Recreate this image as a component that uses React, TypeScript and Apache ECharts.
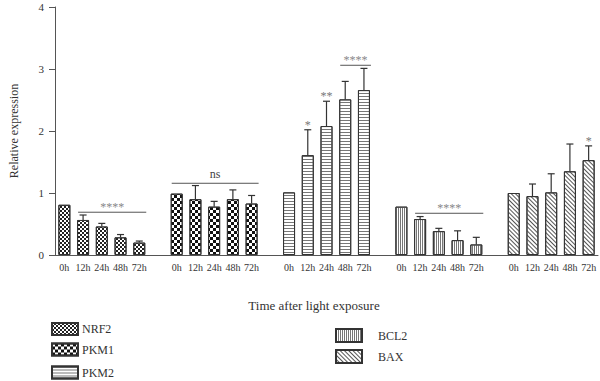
import React, { useEffect, useRef } from "react";
import * as echarts from "echarts";

const times = ["0h", "12h", "24h", "48h", "72h"];
const genes = ["NRF2", "PKM1", "PKM2", "BCL2", "BAX"];

const nrf2Mean = [0.81, 0.565, 0.46, 0.285, 0.2];
const nrf2Sd = [0, 0.08, 0.05, 0.045, 0.025];
const pkm1Mean = [0.99, 0.9, 0.78, 0.9, 0.83];
const pkm1Sd = [0, 0.22, 0.085, 0.15, 0.13];
const pkm2Mean = [1.01, 1.61, 2.08, 2.51, 2.66];
const pkm2Sd = [0, 0.41, 0.4, 0.29, 0.35];
const bcl2Mean = [0.78, 0.58, 0.385, 0.24, 0.17];
const bcl2Sd = [0, 0.04, 0.045, 0.15, 0.115];
const baxMean = [1.0, 0.95, 1.01, 1.35, 1.53];
const baxSd = [0, 0.195, 0.3, 0.44, 0.23];

// per-bar significance marks
const pkm2Marks = ["", "*", "**", "", ""];
const baxMarks = ["", "", "", "", "*"];
const noMarks = ["", "", "", "", ""];

// bracket annotations: gene, from time index, to time index, height, text
const brackets = [
  { gene: "NRF2", from: 1, to: 4, y: 0.69, text: "****" },
  { gene: "PKM1", from: 0, to: 4, y: 1.157, text: "ns" },
  { gene: "PKM2", from: 3, to: 4, y: 3.06, text: "****" },
  { gene: "BCL2", from: 1, to: 4, y: 0.673, text: "****" },
];

const yTicks = [0, 1, 2, 3, 4];

const means = [nrf2Mean, pkm1Mean, pkm2Mean, bcl2Mean, baxMean];
const sds = [nrf2Sd, pkm1Sd, pkm2Sd, bcl2Sd, baxSd];
const marks = [noMarks, noMarks, pkm2Marks, noMarks, baxMarks];

const FONT = '"Liberation Serif", "DejaVu Serif", serif';

const decals: any[] = [
  // NRF2 fine checkerboard
  { symbol: "rect", symbolSize: 1, color: "#222", dashArrayX: [[2, 2], [0, 2, 2, 0]], dashArrayY: [2, 0] },
  // PKM1 coarse checkerboard
  { symbol: "rect", symbolSize: 1, color: "#111", dashArrayX: [[3, 3], [0, 3, 3, 0]], dashArrayY: [3, 0] },
  // PKM2 horizontal lines
  { symbol: "rect", symbolSize: 1, color: "#777", dashArrayX: [1, 0], dashArrayY: [1, 1.4] },
  // BCL2 vertical lines
  { symbol: "rect", symbolSize: 1, color: "#777", dashArrayX: [1, 1], dashArrayY: [1, 0] },
  // BAX diagonal lines
  { symbol: "rect", symbolSize: 1, color: "#555", dashArrayX: [1, 0], dashArrayY: [1, 2], rotation: Math.PI / 4 },
];

// legend placement (one legend component per gene)
const legendSpots = [
  { left: 51, top: 322, h: 12, textGap: 4 },
  { left: 51, top: 342.5, h: 12, textGap: 4 },
  { left: 51, top: 365.5, h: 12, textGap: 4 },
  { left: 335, top: 328, h: 13, textGap: 16 },
  { left: 335, top: 349, h: 13, textGap: 16 },
];

export default function App() {
  const ref = useRef<HTMLDivElement>(null);

  useEffect(() => {
    if (!ref.current) return;
    const chart = echarts.init(ref.current, null, { renderer: "svg" });

    const categories: string[] = [];
    genes.forEach((g, gi) => {
      times.forEach((t) => categories.push(`${g}|${t}`));
      if (gi < genes.length - 1) categories.push(`gap${gi}`);
    });
    const idx = (gi: number, ti: number) => gi * (times.length + 1) + ti;

    const barSeries = genes.map((g, gi) => {
      const data: any[] = categories.map(() => "-");
      means[gi].forEach((v, ti) => (data[idx(gi, ti)] = v));
      return {
        name: g,
        type: "bar",
        data,
        barWidth: 12,
        barGap: "-100%",
        itemStyle: { color: "#fff", borderColor: "#333", borderWidth: 1, decal: decals[gi] },
        emphasis: { disabled: true },
      };
    });

    const errItems: { x: number; lo: number; hi: number; mark: string }[] = [];
    genes.forEach((g, gi) => {
      means[gi].forEach((m, ti) => {
        if (sds[gi][ti] > 0) {
          errItems.push({ x: idx(gi, ti), lo: m, hi: m + sds[gi][ti], mark: marks[gi][ti] });
        }
      });
    });

    const errSeries = {
      type: "custom",
      silent: true,
      z: 5,
      data: errItems.map((e) => [e.x, e.lo, e.hi]),
      renderItem: (params: any, api: any) => {
        const x = api.value(0);
        const b = api.coord([x, api.value(1)]);
        const t = api.coord([x, api.value(2)]);
        const children: any[] = [
          { type: "line", shape: { x1: b[0], y1: b[1], x2: t[0], y2: t[1] }, style: { stroke: "#333", lineWidth: 1.2 } },
          { type: "line", shape: { x1: t[0] - 3.5, y1: t[1], x2: t[0] + 3.5, y2: t[1] }, style: { stroke: "#333", lineWidth: 1.2 } },
        ];
        const mk = errItems[params.dataIndex].mark;
        if (mk) {
          children.push({
            type: "text",
            style: { text: mk, x: t[0], y: t[1] + 1, align: "center", verticalAlign: "bottom", fill: "#777", font: `12px ${FONT}` },
          });
        }
        return { type: "group", children };
      },
    };

    const sigSeries = {
      type: "custom",
      silent: true,
      z: 5,
      data: brackets.map((b) => {
        const gi = genes.indexOf(b.gene);
        return [idx(gi, b.from), idx(gi, b.to), b.y];
      }),
      encode: { x: [0, 1], y: 2 },
      renderItem: (params: any, api: any) => {
        const p1 = api.coord([api.value(0), api.value(2)]);
        const p2 = api.coord([api.value(1), api.value(2)]);
        const txt = brackets[params.dataIndex].text;
        const isNs = txt === "ns";
        return {
          type: "group",
          children: [
            { type: "line", shape: { x1: p1[0] - 5, y1: p1[1], x2: p2[0] + 7, y2: p2[1] }, style: { stroke: "#555", lineWidth: 1 } },
            {
              type: "text",
              style: {
                text: txt,
                x: (p1[0] - 5 + p2[0] + 7) / 2,
                y: isNs ? p1[1] - 3 : p1[1] + 1,
                align: "center",
                verticalAlign: "bottom",
                fill: isNs ? "#444" : "#888",
                font: `12px ${FONT}`,
              },
            },
          ],
        };
      },
    };

    const legends = genes.map((g, gi) => {
      const s = legendSpots[gi];
      return {
        data: [g],
        orient: "vertical",
        left: s.left,
        top: s.top,
        padding: 0,
        icon: "rect",
        itemWidth: 26,
        itemHeight: s.h,
        selectedMode: false,
        textStyle: { fontFamily: FONT, fontSize: 12, color: "#333", lineHeight: s.h, padding: [0, 0, 0, s.textGap - 5] },
      };
    });

    chart.setOption({
      animation: false,
      backgroundColor: "#fff",
      grid: { left: 51, right: 2, top: 7, bottom: 126, containLabel: false },
      xAxis: {
        type: "category",
        data: categories,
        axisLine: { lineStyle: { color: "#555", width: 1 } },
        axisTick: {
          alignWithLabel: true,
          length: 4,
          interval: (i: number, v: string) => v.indexOf("|") >= 0,
          lineStyle: { color: "#555" },
        },
        axisLabel: {
          interval: 0,
          margin: 7,
          fontFamily: FONT,
          fontSize: 10,
          color: "#333",
          formatter: (v: string) => (v.indexOf("|") >= 0 ? v.split("|")[1] : ""),
        },
      },
      yAxis: {
        type: "value",
        min: yTicks[0],
        max: yTicks[yTicks.length - 1],
        interval: 1,
        name: "Relative expression",
        nameLocation: "middle",
        nameGap: 35,
        nameTextStyle: { fontFamily: FONT, fontSize: 12, color: "#333" },
        axisLine: { show: true, lineStyle: { color: "#555", width: 1 } },
        axisTick: { show: true, length: 6, lineStyle: { color: "#555" } },
        splitLine: { show: false },
        axisLabel: { margin: 11, fontFamily: FONT, fontSize: 11, color: "#333" },
      },
      legend: legends,
      graphic: [
        {
          type: "text",
          x: 314,
          y: 305,
          style: { text: "Time after light exposure", align: "center", verticalAlign: "middle", font: `13px ${FONT}`, fill: "#333" },
        },
      ],
      series: [...barSeries, errSeries, sigSeries],
    });

    return () => chart.dispose();
  }, []);

  return <div ref={ref} style={{ position: "fixed", left: 0, top: 0, width: 600, height: 381, background: "#fff" }} />;
}
